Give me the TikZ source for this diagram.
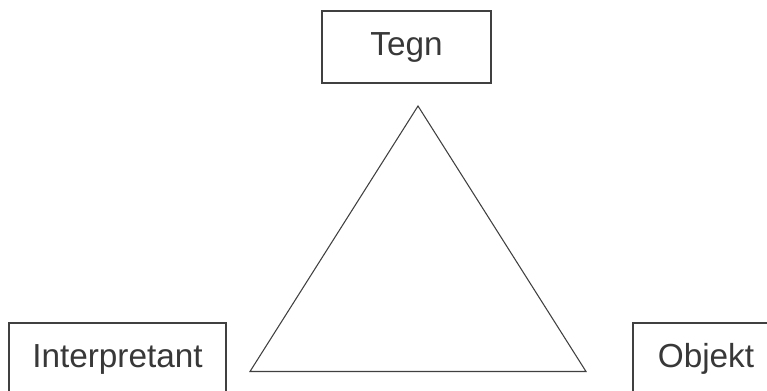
\documentclass[tikz,border=0pt]{standalone}
\usepackage{fontspec}
\setmainfont{Liberation Sans}
\usepackage{xcolor}
\usepackage{tikz}
\definecolor{linegray}{gray}{0.25}
\definecolor{textgray}{gray}{0.22}

\begin{document}
\begin{tikzpicture}[x=0.75pt, y=-0.75pt,
    every node/.style={rectangle, draw=linegray, line width=1.1pt, text=textgray,
        minimum height=54pt, inner sep=0pt, font=\fontsize{25}{30}\selectfont},
    side/.style={draw=linegray, line width=0.8pt, line join=miter}]
    \useasboundingbox (0,0) rectangle (767,391);
    \node[minimum width=126.75pt] (tegn) at (406.5,47) {Tegn};
    \node[minimum width=162.75pt] (interp) at (117.5,359) {Interpretant};
    \node[minimum width=109.5pt] (objekt) at (706,359) {Objekt};
    \coordinate (top) at (418,106);
    \coordinate (left) at (250,371.5);
    \coordinate (right) at (586,371.5);
    \draw[side] (top) -- (right) -- (left) -- cycle;
\end{tikzpicture}
\end{document}
